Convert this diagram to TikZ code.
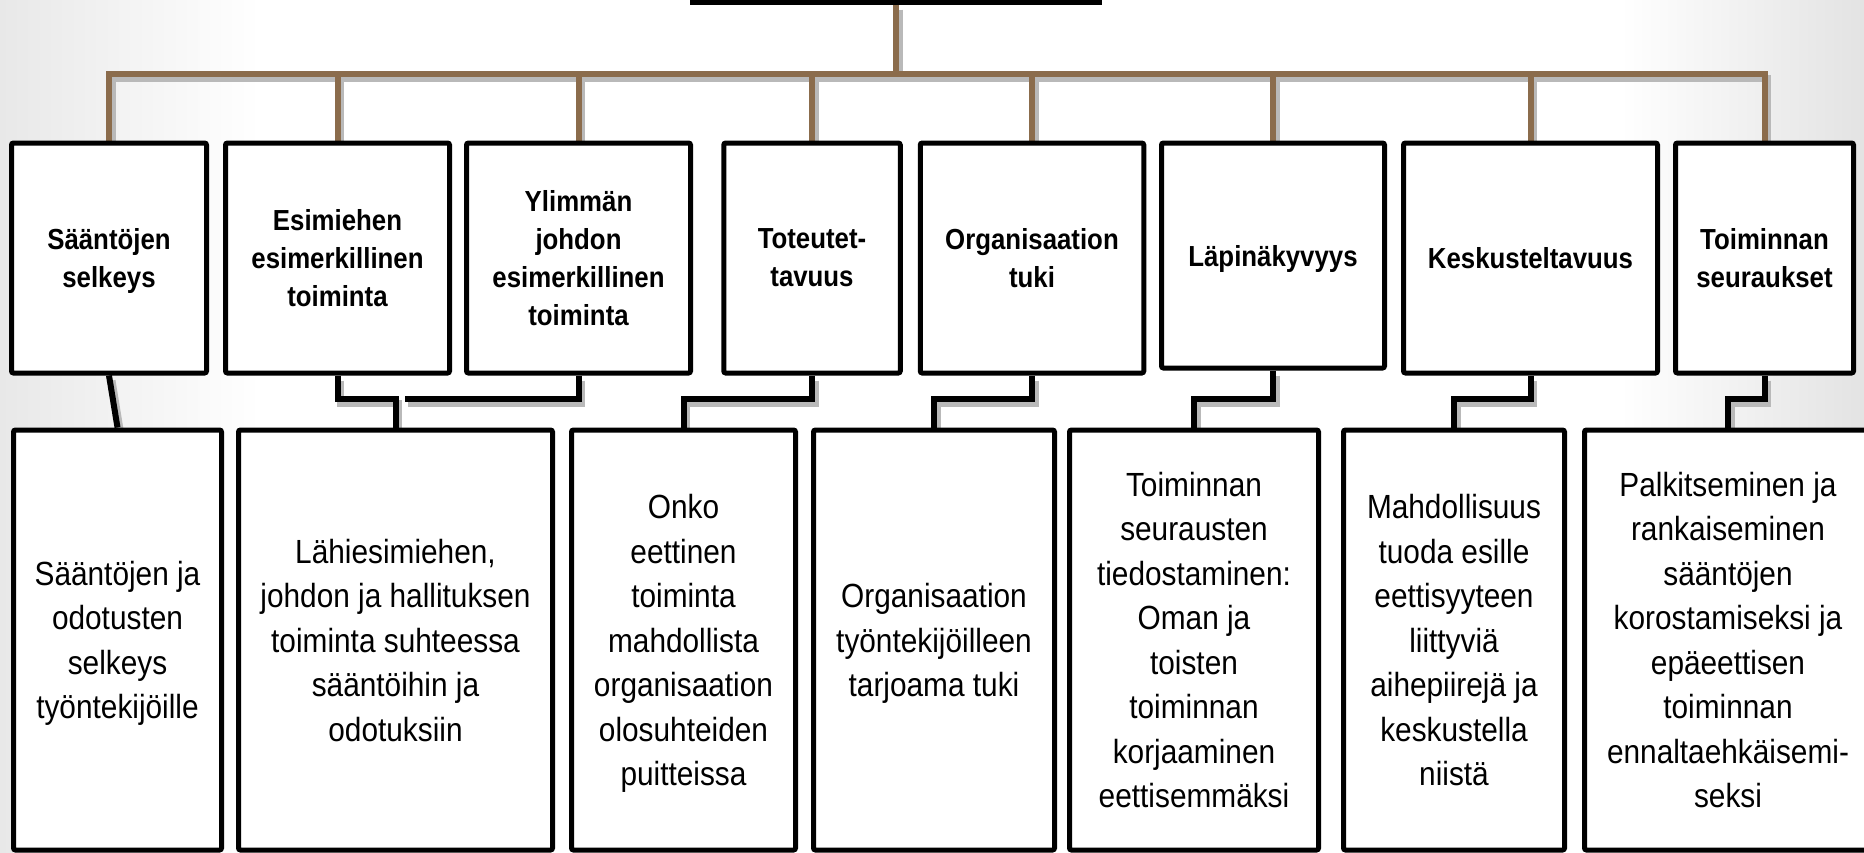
\documentclass[tikz,border=0pt]{standalone}
\usepackage{fontspec}
\setmainfont[FakeStretch=0.89]{Liberation Sans}
\usetikzlibrary{calc}
\definecolor{trunkbrown}{RGB}{139,108,76}
\definecolor{shadowgray}{RGB}{185,185,185}
\pgfdeclarelayer{backdrop}
\pgfdeclarelayer{wires}
\pgfsetlayers{backdrop,wires,main}

\begin{document}
\begin{tikzpicture}[x=1pt,y=-1pt,
    crit/.style={draw=black,line width=5pt,fill=white,rounded corners=2pt,anchor=north,
      align=center,inner sep=0pt,text depth=0pt,font=\fontsize{29}{38}\selectfont\bfseries},
    desc/.style={draw=black,line width=5pt,fill=white,rounded corners=2pt,anchor=north,
      align=center,inner sep=0pt,text depth=-10pt,minimum height=420pt,font=\fontsize{33.5}{44.5}\selectfont},
    brline/.style={draw=trunkbrown,line width=6pt},
    blkline/.style={draw=black,line width=6pt},
    wireshadow/.style={draw=shadowgray,line width=7pt,transform canvas={xshift=3pt,yshift=-5pt}}]
    \useasboundingbox (0,0) rectangle (1864,852);
    \node[draw=black,line width=5pt,fill=white,minimum width=407pt,minimum height=100pt,anchor=south] (top) at (896,4.5) {};
    \foreach \n/\x/\w/\h/\txt in {
        u1/109/195/230/{Sääntöjen\\selkeys},
        u2/337.5/224/230/{Esimiehen\\esimerkillinen\\toiminta},
        u3/578.5/224/230/{Ylimmän\\johdon\\esimerkillinen\\toiminta},
        u4/812/176.5/230/{Toteutet-\\tavuus},
        u5/1032/223.5/230/{Organisaation\\tuki},
        u6/1273/223/225/{Läpinäkyvyys},
        u7/1530.5/254/230/{Keskusteltavuus},
        u8/1764.5/178/230/{Toiminnan\\seuraukset}} {
            \node[crit,minimum width=\w pt,minimum height=\h pt] (\n) at (\x,140.5) {\txt};
        }
    \foreach \n/\x/\w/\txt in {
        l1/117.5/208/{Sääntöjen ja\\odotusten\\selkeys\\työntekijöille},
        l2/395.5/314/{Lähiesimiehen,\\johdon ja hallituksen\\toiminta suhteessa\\sääntöihin ja\\odotuksiin},
        l3/683.5/224/{Onko\\eettinen\\toiminta\\mahdollista\\organisaation\\olosuhteiden\\puitteissa},
        l4/934/241/{Organisaation\\työntekijöilleen\\tarjoama tuki},
        l5/1194/249/{Toiminnan\\seurausten\\tiedostaminen:\\Oman ja\\toisten\\toiminnan\\korjaaminen\\eettisemmäksi},
        l6/1454/221/{Mahdollisuus\\tuoda esille\\eettisyyteen\\liittyviä\\aihepiirejä ja\\keskustella\\niistä},
        l7/1728/287/{Palkitseminen ja\\rankaiseminen\\sääntöjen\\korostamiseksi ja\\epäeettisen\\toiminnan\\ennaltaehkäisemi-\\seksi}} {
            \node[desc,minimum width=\w pt] (\n) at (\x,427.5) {\txt};
        }
    \begin{pgfonlayer}{wires}
        \coordinate (bus) at (896,73.5);
        \coordinate (gap) at (405,398.5);
        \foreach \look in {wireshadow,brline} {
            \draw[\look] (top.south) -- (bus);
            \foreach \i in {1,...,8}
                \draw[\look] (bus) -| (u\i.north);
        }
        \foreach \look in {wireshadow,blkline} {
            \draw[\look] (u1.south) -- (l1.north);
            \draw[\look] (u2.south) |- ([yshift=29pt]l2.north) -- (l2.north);
            \draw[\look] (u3.south) |- (gap);
            \foreach \a/\b in {4/3,5/4,6/5,7/6,8/7}
                \draw[\look] (u\a.south) |- ([yshift=29pt]l\b.north) -- (l\b.north);
        }
    \end{pgfonlayer}
    \begin{pgfonlayer}{backdrop}
        \fill[white] (0,0) rectangle (1864,852);
        \shade[left color=black!9,right color=white] (0,0) rectangle (260,852);
        \shade[left color=white,right color=black!11] (1620,0) rectangle (1864,852);
    \end{pgfonlayer}
\end{tikzpicture}
\end{document}
